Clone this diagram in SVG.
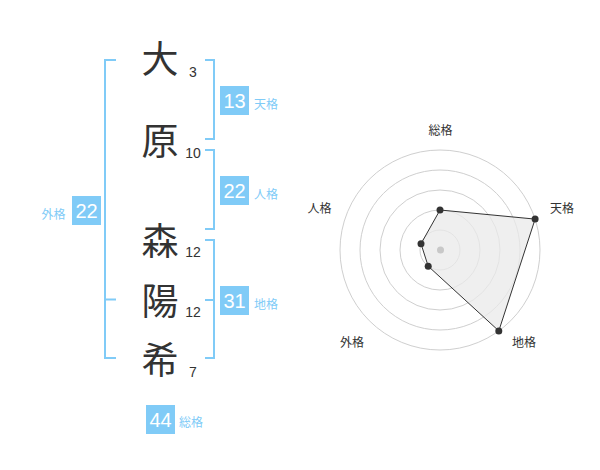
<svg xmlns="http://www.w3.org/2000/svg" width="600" height="470" viewBox="0 0 600 470">
<style>
.ch{font-family:"Noto Sans CJK JP","Noto Sans CJK SC",sans-serif;font-size:37px;fill:#333;text-anchor:middle}
.st{font-family:"Liberation Sans",Arial,sans-serif;font-size:14px;fill:#333;text-anchor:middle}
.box{fill:#80cbf7}
.bn{font-family:"Liberation Sans",Arial,sans-serif;font-size:20px;fill:#fff;text-anchor:middle}
.bl{font-family:"Noto Sans CJK JP","Noto Sans CJK SC",sans-serif;font-size:12px;fill:#80cbf7}
.br{fill:none;stroke:#80cbf7;stroke-width:2}
.ring{fill:none;stroke:#cfcfcf;stroke-width:1}
.ax{font-family:"Noto Sans CJK JP","Noto Sans CJK SC",sans-serif;font-size:12px;fill:#333;text-anchor:middle}
.pt{fill:#333}
</style>
<rect width="600" height="470" fill="#fff"/>
<g id="chars">
<g id="c1"><text class="ch" x="160" y="73">大</text><text class="st" x="193" y="77">3</text></g>
<g id="c2"><text class="ch" x="160" y="154.5">原</text><text class="st" x="193" y="158">10</text></g>
<g id="c3"><text class="ch" x="160" y="255">森</text><text class="st" x="193" y="257">12</text></g>
<g id="c4"><text class="ch" x="160" y="314.5">陽</text><text class="st" x="193" y="317">12</text></g>
<g id="c5"><text class="ch" x="160" y="374">希</text><text class="st" x="193" y="377">7</text></g>
</g>
<g id="connectors">
<path class="br" d="M116,60 H105 V358 H116 M105,299.5 H116"/>
<path class="br" d="M205,60 H214 V139 H205"/>
<path class="br" d="M205,150 H214 V229 H205"/>
<path class="br" d="M205,240 H214 V358 H205 M205,300 H214"/>
</g>
<g id="tenkaku"><rect class="box" x="220" y="86" width="29" height="29"/><text class="bn" x="234.5" y="108">13</text><text class="bl" x="254" y="109">天格</text></g>
<g id="jinkaku"><rect class="box" x="220" y="176" width="29" height="29"/><text class="bn" x="234.5" y="198">22</text><text class="bl" x="254" y="199">人格</text></g>
<g id="chikaku"><rect class="box" x="220" y="286" width="29" height="29"/><text class="bn" x="234.5" y="308">31</text><text class="bl" x="254" y="309">地格</text></g>
<g id="gaikaku"><rect class="box" x="72" y="196" width="29" height="29"/><text class="bn" x="86.5" y="218">22</text><text class="bl" x="65.5" y="219" text-anchor="end">外格</text></g>
<g id="soukaku"><rect class="box" x="146" y="405" width="29" height="29"/><text class="bn" x="160.5" y="427">44</text><text class="bl" x="179" y="427">総格</text></g>
<g id="radar">
<circle class="ring" cx="440" cy="250" r="20"/>
<circle class="ring" cx="440" cy="250" r="40"/>
<circle class="ring" cx="440" cy="250" r="60"/>
<circle class="ring" cx="440" cy="250" r="80"/>
<circle class="ring" cx="440" cy="250" r="100"/>
<polygon points="440,210 535.1,219.1 498.8,330.9 428.2,266.2 421,243.8" fill="#e9e9e9" fill-opacity="0.75" stroke="#333" stroke-width="1"/>
<circle cx="440.5" cy="250" r="3.5" fill="#c8c8c8"/>
<circle class="pt" cx="440" cy="210" r="3.5"/>
<circle class="pt" cx="535.1" cy="219.1" r="3.5"/>
<circle class="pt" cx="498.8" cy="330.9" r="3.5"/>
<circle class="pt" cx="428.2" cy="266.2" r="3.5"/>
<circle class="pt" cx="421" cy="243.8" r="3.5"/>
<text class="ax" x="440.5" y="135">総格</text>
<text class="ax" x="562" y="213">天格</text>
<text class="ax" x="524" y="347">地格</text>
<text class="ax" x="352" y="347">外格</text>
<text class="ax" x="319.5" y="213">人格</text>
</g>
</svg>
